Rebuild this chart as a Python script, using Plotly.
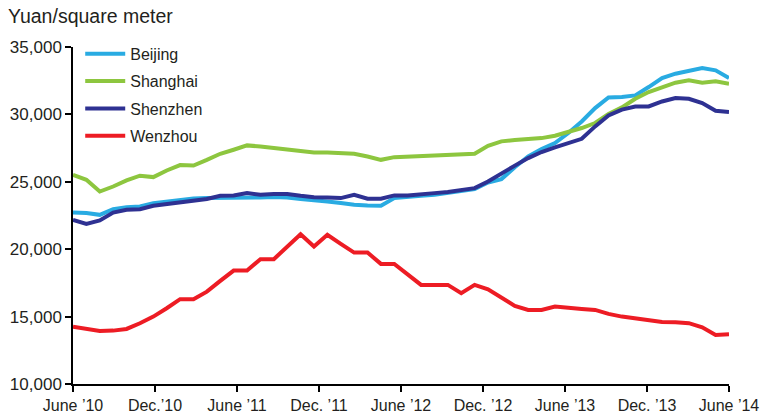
import plotly.graph_objects as go

tick_labels = ["June ’10", "Dec.’10", "June ’11", "Dec. ’11", "June ’12",
               "Dec. ’12", "June ’13", "Dec. ’13", "June ’14"]

beijing = [22720, 22680, 22550, 22970, 23120, 23170, 23420, 23540, 23660, 23760,
           23790, 23790, 23790, 23790, 23840, 23870, 23840, 23720, 23660, 23540,
           23420, 23290, 23240, 23220, 23790, 23840, 23960, 24040, 24160, 24280,
           24460, 24950, 25200, 26080, 26880, 27430, 27870, 28620, 29480, 30470,
           31260, 31290, 31410, 32030, 32700, 33020, 33200, 33440, 33270, 32700]

shanghai = [25520, 25150, 24280, 24650, 25100, 25450, 25350, 25840, 26240, 26210,
            26630, 27080, 27380, 27700, 27620, 27500, 27400, 27320, 27170, 27170,
            27130, 27080, 26880, 26630, 26830, 26880, 26900, 26950, 26980, 27010,
            27080, 27670, 28000, 28100, 28190, 28240, 28420, 28690, 28990, 29360,
            30030, 30520, 31160, 31660, 32030, 32350, 32530, 32350, 32450, 32280]

shenzhen = [22180, 21880, 22130, 22720, 22920, 22970, 23220, 23340, 23490, 23610,
            23720, 23960, 23990, 24160, 24040, 24090, 24090, 23960, 23860, 23840,
            23790, 24040, 23740, 23740, 23990, 23990, 24110, 24160, 24240, 24360,
            24530, 25020, 25650, 26200, 26760, 27210, 27550, 27870, 28190, 29110,
            29920, 30350, 30590, 30590, 30960, 31210, 31160, 30840, 30270, 30180]

wenzhou = [14255, 14084, 13936, 13960, 14084, 14507, 15000, 15620, 16290, 16290,
           16850, 17650, 18415, 18415, 19260, 19260, 20200, 21115, 20200, 21065,
           20400, 19750, 19750, 18910, 18910, 18130, 17350, 17350, 17350, 16735,
           17350, 17030, 16440, 15790, 15495, 15495, 15740, 15620, 15570, 15495,
           15200, 15000, 14880, 14730, 14600, 14580, 14510, 14210, 13640, 13690]

series = [("Beijing", beijing, "#29ABE2"),
          ("Shanghai", shanghai, "#8DC63F"),
          ("Shenzhen", shenzhen, "#2E3192"),
          ("Wenzhou", wenzhou, "#ED1C24")]

n = len(beijing)
xs = list(range(n))
span = n - 1
tick_vals = [span * j / (len(tick_labels) - 1) for j in range(len(tick_labels))]

FONT = "Liberation Sans, Arial, sans-serif"
TXT = "#231F20"

fig = go.Figure()
for name, vals, col in series:
    fig.add_trace(go.Scatter(x=xs, y=vals, mode="lines", name=name,
                             legendgroup=name,
                             line=dict(color=col, width=4)))

fig.update_layout(
    width=761, height=416,
    margin=dict(l=73, r=32, t=47, b=32, autoexpand=False),
    paper_bgcolor="white", plot_bgcolor="white",
    font=dict(family=FONT, size=16, color=TXT),
    showlegend=True,
    legend=dict(x=0.011, y=1.03, xanchor="left", yanchor="top",
                bgcolor="rgba(0,0,0,0)", font=dict(size=16, color=TXT),
                tracegroupgap=3.5, itemwidth=40),
    title=dict(text="Yuan/square meter", x=8 / 761, xref="container",
               xanchor="left", y=1 - 16 / 416, yref="container",
               yanchor="middle", font=dict(size=19.5, color=TXT, family=FONT)),
    xaxis=dict(range=[0, span], tickvals=tick_vals, ticktext=tick_labels,
               showgrid=False, zeroline=False, showline=True, automargin=False,
               linecolor="black", linewidth=1.5, ticks="outside",
               ticklen=6, tickcolor="black", tickwidth=1.5,
               tickfont=dict(size=16, color=TXT)),
    yaxis=dict(range=[10000, 35000], dtick=5000, tickformat=",",
               showgrid=False, zeroline=False, showline=True, automargin=False,
               linecolor="black", linewidth=1.5, ticks="outside",
               ticklen=6, tickcolor="black", tickwidth=1.5,
               tickfont=dict(size=17, color=TXT)),
)

fig.write_html("out.html",
               config={"displayModeBar": False},
               post_script="document.body.style.margin='0';"
                           "document.body.style.overflow='hidden';")
